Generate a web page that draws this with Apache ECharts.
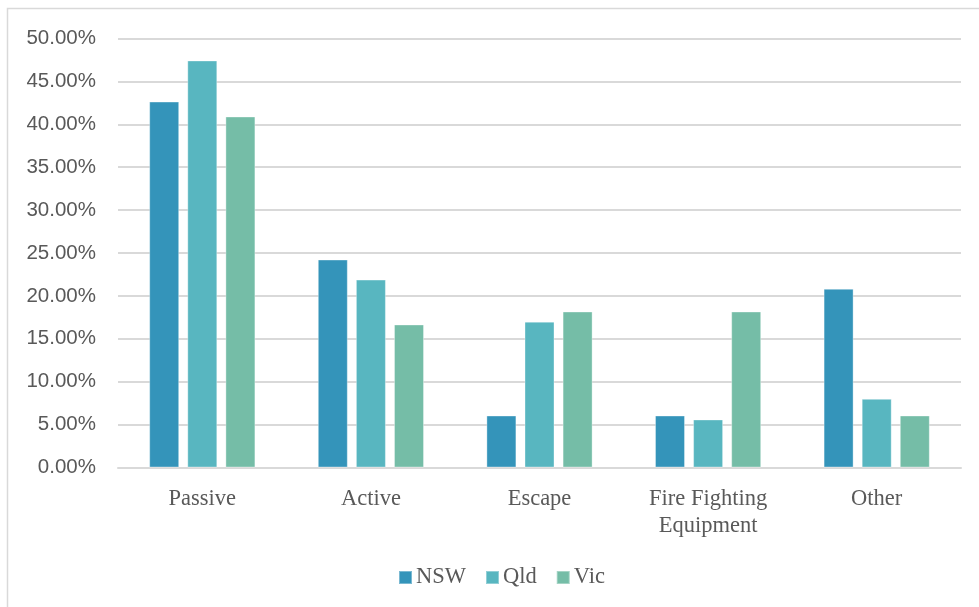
<!DOCTYPE html>
<html>
<head>
<meta charset="utf-8">
<script src="https://cdn.jsdelivr.net/npm/echarts@6/dist/echarts.min.js"></script>
<style>
  html, body { margin: 0; padding: 0; background: #fff; }
  #chart { width: 979px; height: 607px; }
</style>
</head>
<body>
<div id="chart"></div>
<script>
// data
var categories = ['Passive', 'Active', 'Escape', 'Fire Fighting\nEquipment', 'Other'];
var nsw = [42.65, 24.24, 6.06, 6.06, 20.83];
var qld = [47.44, 21.9, 17.0, 5.6, 8.0];
var vic = [40.91, 16.67, 18.18, 18.18, 6.06];
var yTicks = { min: 0, max: 50, step: 5 };

var colors = ['#3494BA', '#58B6C0', '#75BDA7'];
var serif = '"Liberation Serif", "Times New Roman", serif';

var chart = echarts.init(document.getElementById('chart'));

function bar(name, data) {
  return {
    name: name,
    type: 'bar',
    data: data,
    barWidth: 30,
    barGap: '27%',
    itemStyle: { borderColor: 'rgba(255,255,255,0.35)', borderWidth: 1 }
  };
}

chart.setOption({
  animation: false,
  color: colors,
  graphic: [
    // chart area border (top and left edges visible)
    { type: 'polyline', shape: { points: [[7.5, 607], [7.5, 8.5], [979, 8.5]] },
      style: { stroke: '#D9D9D9', lineWidth: 1.5, fill: null } }
  ],
  grid: { left: 118, right: 18, top: 38.5, bottom: 139.5 },
  legend: {
    bottom: 13,
    left: 393,
    itemWidth: 13,
    itemHeight: 13,
    itemGap: 19,
    icon: 'rect',
    textStyle: { fontFamily: serif, fontSize: 22.5, color: '#595959', padding: [0, 0, 0, -1] },
    data: ['NSW', 'Qld', 'Vic']
  },
  xAxis: {
    type: 'category',
    data: categories,
    axisLine: { lineStyle: { color: '#D9D9D9', width: 2 } },
    axisTick: { show: false },
    axisLabel: {
      fontFamily: serif, fontSize: 22.5, color: '#595959',
      margin: 18, lineHeight: 27
    }
  },
  yAxis: {
    type: 'value',
    min: yTicks.min,
    max: yTicks.max,
    interval: yTicks.step,
    axisLine: { show: false },
    axisTick: { show: false },
    splitLine: { lineStyle: { color: '#D9D9D9', width: 2 } },
    axisLabel: {
      fontFamily: '"Liberation Sans", Arial, sans-serif', fontSize: 20.5, color: '#595959',
      margin: 22,
      formatter: function (v) { return v.toFixed(2) + '%'; }
    }
  },
  series: [bar('NSW', nsw), bar('Qld', qld), bar('Vic', vic)]
});
</script>
</body>
</html>
